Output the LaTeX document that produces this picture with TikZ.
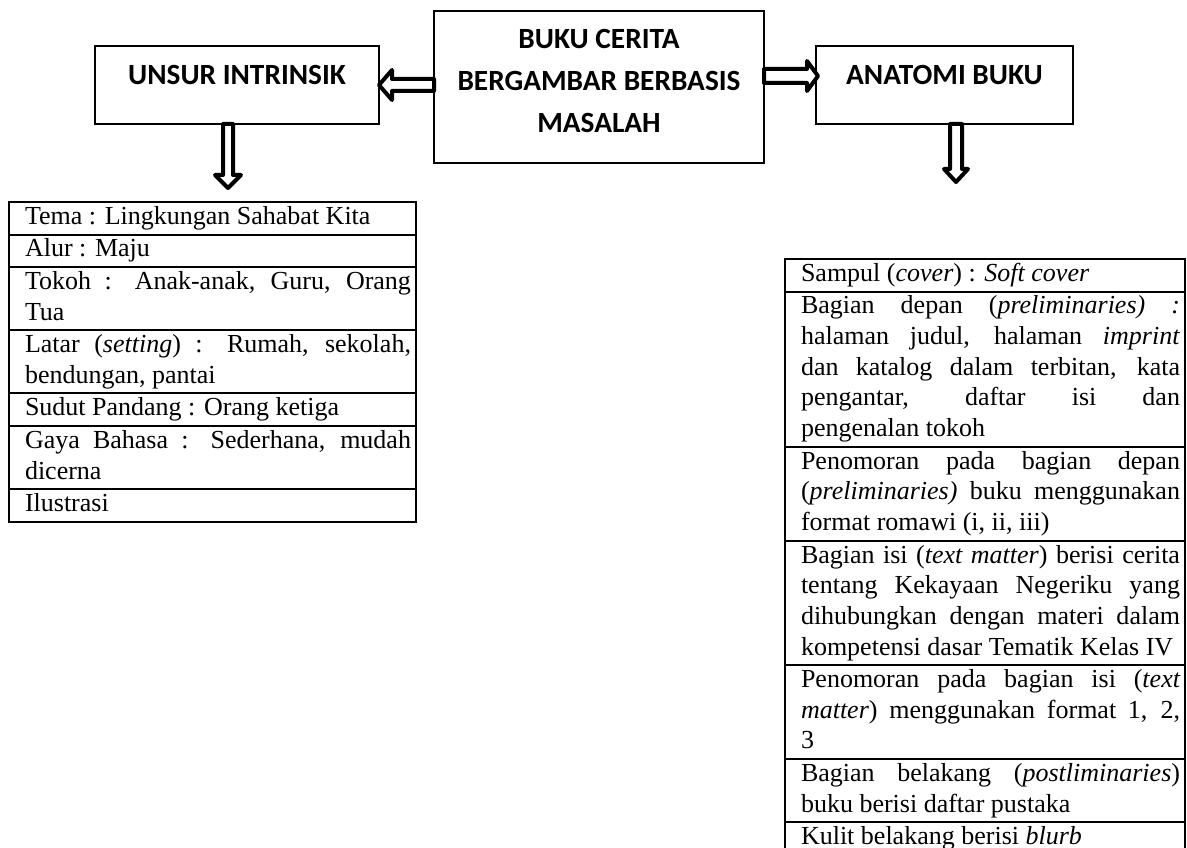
\documentclass[tikz,border=0pt]{standalone}
\usepackage{fontspec}
\setmainfont{Liberation Serif}
\newfontfamily\calibri{Carlito}
\usepackage{tikz}
\usetikzlibrary{positioning}
\tikzset{
  headBox/.style={%
    draw, line width=1pt, outer sep=0pt, align=center,
    font=\calibri\bfseries\fontsize{22pt}{31.5pt}\selectfont,
  },
  blockArrow/.style={%
    draw, line width=3pt, fill=white, line join=round,
  },
  tableRow/.style={%
    draw, line width=1.5pt, outer sep=0pt, inner xsep=0pt, inner ysep=0.7pt,
    align=justify, font=\fontsize{19.5pt}{23pt}\selectfont,
    execute at begin node={\leftskip=12pt\rightskip=3.75pt\hyphenpenalty=10000\tolerance=10000\strut},
    execute at end node={\strut},
  },
  leftRow/.style={tableRow, text width=305.25pt},
  rightRow/.style={tableRow, text width=300pt},
}

\begin{document}
\begin{tikzpicture}[x=0.75pt, y=-0.75pt]
  \path[use as bounding box, fill=white] (0,0) rectangle (1187,848);
  \clip (0,0) rectangle (1187,848);
  % boxes on top
  \node[headBox, minimum width=247.5pt, minimum height=114pt, text height=70.25pt, text depth=2pt] (judul) at (599,87) {BUKU CERITA\\BERGAMBAR BERBASIS\\MASALAH};
  \node[headBox, minimum width=213pt, minimum height=58.5pt, text height=14.2pt, text depth=15pt] (unsur) at (237,85) {UNSUR INTRINSIK};
  \node[headBox, minimum width=192.75pt, minimum height=58.5pt, text height=14.2pt, text depth=15pt] (anatomi) at (944.5,85) {ANATOMI BUKU};
  % block arrows
  \draw[blockArrow] (unsur.east) -- ++(13,-15) -- ++(0,9) -- ++(42,0) -- ++(0,12) -- ++(-42,0) -- ++(0,9) -- cycle;
  \draw[blockArrow] ([xshift=1.5pt,yshift=6.75pt]anatomi.west) -- ++(-11,-15) -- ++(0,8) -- ++(-43,0) -- ++(0,14) -- ++(43,0) -- ++(0,8) -- cycle;
  \draw[blockArrow] ([xshift=-6.75pt,yshift=-48pt]unsur.south) -- ++(-13,-13) -- ++(8,0) -- ++(0,-51) -- ++(10,0) -- ++(0,51) -- ++(8,0) -- cycle;
  \draw[blockArrow] ([xshift=8.625pt,yshift=-43.5pt]anatomi.south) -- ++(-12,-13) -- ++(6,0) -- ++(0,-45) -- ++(12,0) -- ++(0,45) -- ++(6,0) -- cycle;
  % unsur intrinsik
  \node[leftRow, anchor=north west] (tema) at (9,202) {Tema : Lingkungan Sahabat Kita};
  \node[leftRow, below=0pt of tema] (alur) {Alur : Maju};
  \node[leftRow, below=0pt of alur] (tokoh) {Tokoh : Anak-anak, Guru, Orang\linebreak Tua};
  \node[leftRow, below=0pt of tokoh] (latar) {Latar (\textit{setting}) : Rumah, sekolah,\linebreak bendungan, pantai};
  \node[leftRow, below=0pt of latar] (sudut) {Sudut Pandang : Orang ketiga};
  \node[leftRow, below=0pt of sudut] (gaya) {Gaya Bahasa : Sederhana, mudah\linebreak dicerna};
  \node[leftRow, below=0pt of gaya] (ilustrasi) {Ilustrasi};
  % anatomi buku
  \node[rightRow, anchor=north west] (sampul) at (785,259) {Sampul (\textit{cover}) : \textit{Soft cover}};
  \node[rightRow, below=0pt of sampul] (depan) {Bagian depan (\textit{preliminaries) :}\linebreak halaman judul, halaman \textit{imprint}\linebreak dan katalog dalam terbitan, kata\linebreak pengantar, daftar isi dan\linebreak pengenalan tokoh};
  \node[rightRow, below=0pt of depan] (nomorDepan) {Penomoran pada bagian depan\linebreak (\textit{preliminaries)} buku menggunakan\linebreak format romawi (i, ii, iii)};
  \node[rightRow, below=0pt of nomorDepan] (isi) {Bagian isi (\textit{text matter}) berisi cerita\linebreak tentang Kekayaan Negeriku yang\linebreak dihubungkan dengan materi dalam\linebreak kompetensi dasar Tematik Kelas IV};
  \node[rightRow, below=0pt of isi] (nomorIsi) {Penomoran pada bagian isi (\textit{text\linebreak matter}) menggunakan format 1, 2,\linebreak 3};
  \node[rightRow, below=0pt of nomorIsi] (belakang) {Bagian belakang (\textit{postliminaries})\linebreak buku berisi daftar pustaka};
  \node[rightRow, below=0pt of belakang] (kulit) {Kulit belakang berisi \textit{blurb}};
\end{tikzpicture}
\end{document}
